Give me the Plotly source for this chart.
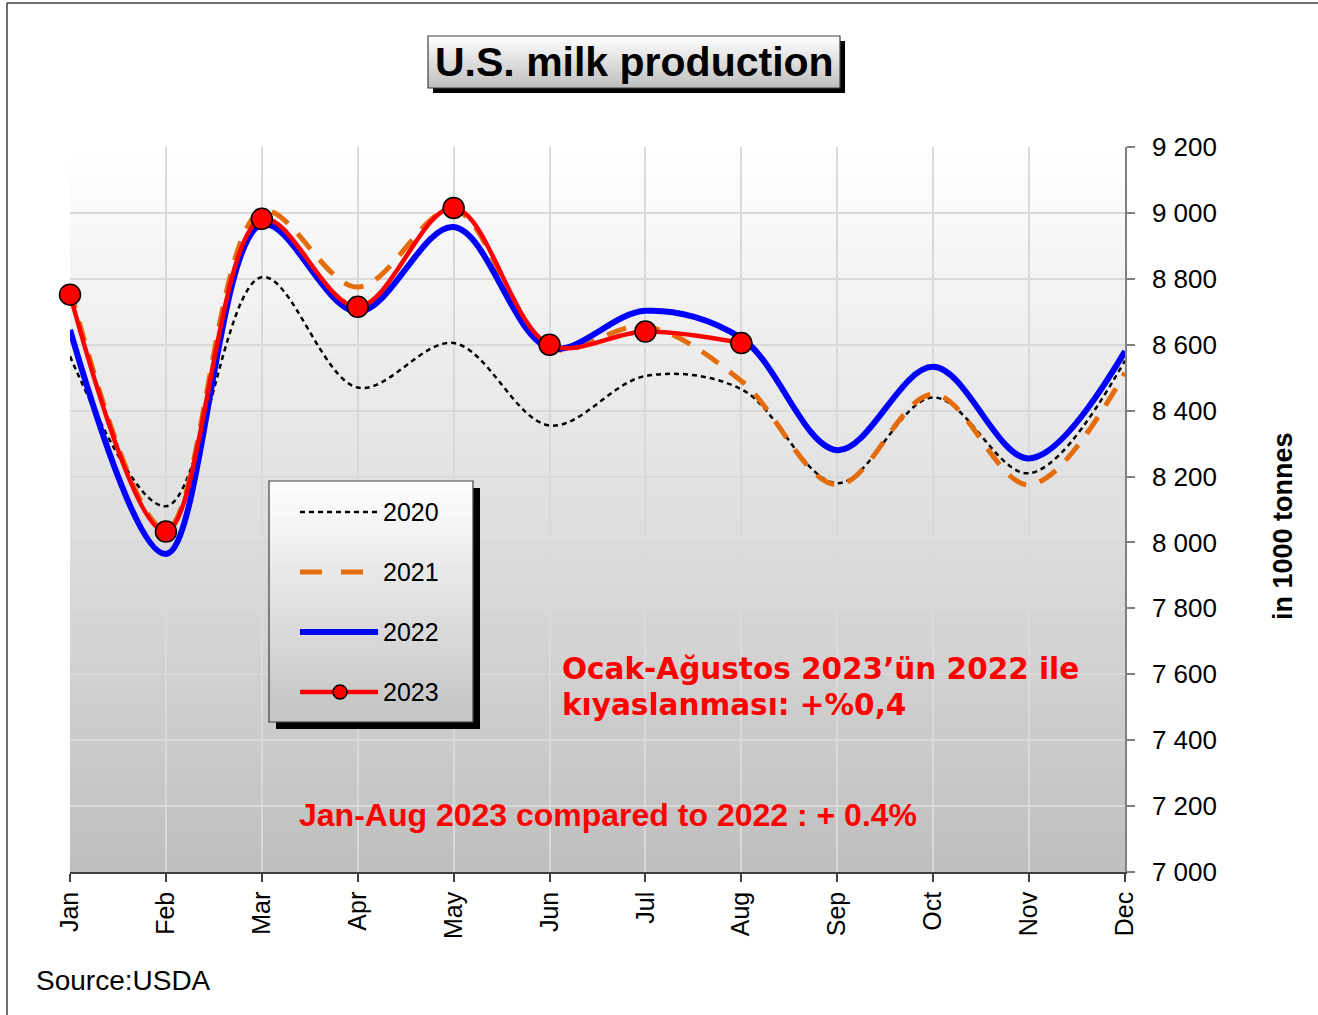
import plotly.graph_objects as go

# ---- data (thousand tonnes) ----
MONTHS = ["Jan", "Feb", "Mar", "Apr", "May", "Jun",
          "Jul", "Aug", "Sep", "Oct", "Nov", "Dec"]
P2020 = [8565, 8110, 8805, 8470, 8605, 8355, 8505, 8465, 8180, 8440, 8210, 8552]
P2021 = [8770, 8040, 9005, 8775, 9010, 8590, 8655, 8490, 8175, 8450, 8175, 8515]
P2022 = [8645, 7965, 8965, 8700, 8957, 8590, 8703, 8620, 8280, 8533, 8255, 8580]
P2023 = [8752, 8033, 8982, 8715, 9015, 8600, 8640, 8605]
Y_TICKS = [7000, 7200, 7400, 7600, 7800, 8000, 8200, 8400, 8600, 8800, 9000, 9200]
LEGEND_NAMES = ["2020", "2021", "2022", "2023"]

W, H = 1318, 1015
PL, PR, PT, PB = 70, 1125, 147, 872  # plot area in pixels


def fx(px):
    return (px - PL) / (PR - PL)


def fy(py):
    return (PB - py) / (PB - PT)


def grey(v):
    v = int(round(v))
    return f"rgb({v},{v},{v})"


shapes = []


def gradient_rect(x0, y0, x1, y1, top, bottom, n, layer):
    step = (y1 - y0) / n
    for i in range(n):
        t = (i + 0.5) / n
        lo = y0 + (i + 1) * step + (1.5 if i < n - 1 else 0)
        shapes.append(dict(type="rect", xref="paper", yref="paper",
                           x0=fx(x0), x1=fx(x1),
                           y0=fy(y0 + i * step), y1=fy(lo),
                           line=dict(width=0), fillcolor=grey(top + (bottom - top) * t),
                           layer=layer))


def rect(x0, y0, x1, y1, fill=None, line_color=None, lw=0, layer="above"):
    shapes.append(dict(type="rect", xref="paper", yref="paper",
                       x0=fx(x0), x1=fx(x1), y0=fy(y0), y1=fy(y1),
                       fillcolor=fill if fill else "rgba(0,0,0,0)",
                       line=dict(width=lw, color=line_color or "rgba(0,0,0,0)"),
                       layer=layer))


def seg(x0, y0, x1, y1, color, width, dash="solid", layer="above"):
    shapes.append(dict(type="line", xref="paper", yref="paper",
                       x0=fx(x0), x1=fx(x1), y0=fy(y0), y1=fy(y1),
                       line=dict(color=color, width=width, dash=dash), layer=layer))


# outer frame (left and top edges)
seg(7, 3, 7, H + 5, "#404040", 1.5)
seg(7, 3, W + 5, 3, "#404040", 1.5)

# plot area background gradient
gradient_rect(PL, PT, PR, PB, 255, 191, 70, "below")

# title box with drop shadow
rect(433, 41, 845, 93, fill="black")
gradient_rect(428, 36, 840, 88, 255, 190, 24, "above")
rect(428, 36, 840, 88, line_color="#404040", lw=1.2)

# legend box with drop shadow
rect(276, 488, 480, 729, fill="black")
gradient_rect(269, 481, 473, 722, 255, 195, 40, "above")
rect(269, 481, 473, 722, line_color="#404040", lw=1.2)

# legend samples
seg(300, 512, 378, 512, "black", 2.5, dash="5px,4px")
seg(300, 572, 378, 572, "#e46c0a", 5, dash="22px,19px")
seg(300, 632, 378, 632, "#0000ff", 6)
seg(300, 692, 378, 692, "#ff0000", 4.5)
shapes.append(dict(type="circle", xref="paper", yref="paper",
                   x0=fx(333), x1=fx(347), y0=fy(685), y1=fy(699),
                   fillcolor="#ff0000", line=dict(color="black", width=1.5),
                   layer="above"))

fig = go.Figure()

fig.add_trace(go.Scatter(x=MONTHS, y=P2020, name="2020", mode="lines",
                         line=dict(color="black", width=2.5, dash="5px,4px",
                                   shape="spline", smoothing=1)))
fig.add_trace(go.Scatter(x=MONTHS, y=P2021, name="2021", mode="lines",
                         line=dict(color="#e46c0a", width=5, dash="20px,14px",
                                   shape="spline", smoothing=1)))
fig.add_trace(go.Scatter(x=MONTHS, y=P2022, name="2022", mode="lines",
                         line=dict(color="#0000ff", width=6,
                                   shape="spline", smoothing=1)))
fig.add_trace(go.Scatter(x=MONTHS[:len(P2023)], y=P2023, name="2023",
                         mode="lines+markers", cliponaxis=False,
                         line=dict(color="#ff0000", width=4.5,
                                   shape="spline", smoothing=1),
                         marker=dict(size=21, color="#ff0000",
                                     line=dict(color="black", width=1.5))))

annotations = []


def label(px, py, text, size, color="black", bold=False, family="Liberation Sans, Arial",
          xanchor="left", angle=0):
    annotations.append(dict(xref="paper", yref="paper", x=fx(px), y=fy(py),
                            text=f"<b>{text}</b>" if bold else text,
                            showarrow=False, xanchor=xanchor, yanchor="middle",
                            textangle=angle,
                            font=dict(size=size, color=color, family=family)))


label(634, 62, "U.S. milk production", 41, bold=True, xanchor="center")
for name, py in zip(LEGEND_NAMES, [512, 572, 632, 692]):
    label(381, py, name, 25)
label(560, 669, "Ocak-Ağustos 2023’ün 2022 ile", 29.5, color="#ff0000", bold=True,
      family="DejaVu Sans, Verdana")
label(560, 705, "kıyaslanması: +%0,4", 29.5, color="#ff0000", bold=True,
      family="DejaVu Sans, Verdana")
label(297, 815, "Jan-Aug 2023 compared to 2022 : + 0.4%", 32, color="#ff0000", bold=True)
label(34, 980, "Source:USDA", 28)
label(1283, 526, "in 1000 tonnes", 27, bold=True, xanchor="center", angle=-90)

fig.update_layout(
    width=W, height=H, autosize=False,
    margin=dict(l=PL, r=W - PR, t=PT, b=H - PB, pad=0),
    paper_bgcolor="white", plot_bgcolor="rgba(0,0,0,0)",
    showlegend=False,
    font=dict(family="Liberation Sans, Arial", size=24, color="black"),
    separators=". ",
    shapes=shapes, annotations=annotations,
)
fig.update_xaxes(type="category", range=[0, 11], showgrid=True, gridcolor="#d9d9d9",
                 gridwidth=1.5, showline=True, linecolor="#404040", linewidth=1.5,
                 ticks="outside", ticklen=8, tickcolor="#404040", tickwidth=1.5,
                 tickangle=-90, tickfont=dict(size=25), zeroline=False)
fig.update_yaxes(side="right", range=[7000, 9200], tickvals=Y_TICKS,
                 tickformat=",d", separatethousands=True,
                 showgrid=True, gridcolor="#d9d9d9", gridwidth=1.5,
                 showline=True, linecolor="#808080", linewidth=1.5,
                 ticks="outside", ticklen=8, tickcolor="#808080", tickwidth=1.5,
                 ticklabelstandoff=12,
                 tickfont=dict(size=26), zeroline=False)

fig.write_html("out.html")
